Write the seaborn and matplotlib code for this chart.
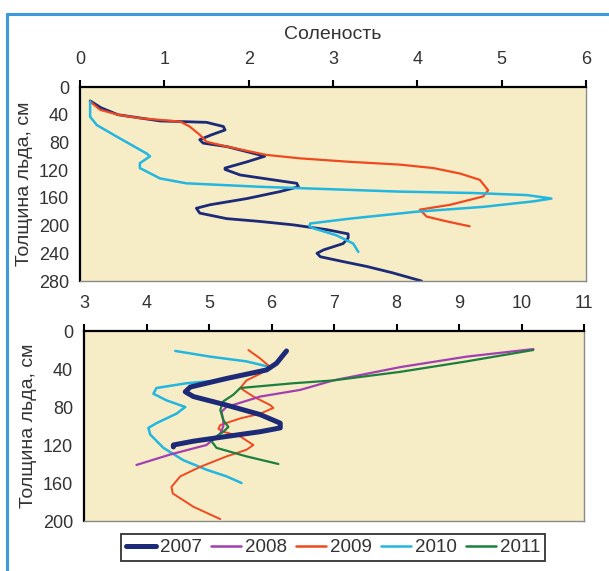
import matplotlib
matplotlib.use("Agg")
import matplotlib.pyplot as plt
import seaborn as sns
import pandas as pd
from matplotlib.lines import Line2D

# ---------------- data ----------------
years = ["2007", "2008", "2009", "2010", "2011"]
colors = ["#1c2a78", "#a23fb3", "#f0491f", "#22b6e0", "#1d7f3e"]

# top panel: salinity vs ice thickness
top_2007_sal = [0.12, 0.25, 0.45, 0.95, 1.5, 1.70, 1.72, 1.56, 1.42, 1.46, 1.74, 2.13, 2.19, 1.98, 1.72, 1.72,
                1.90, 2.29, 2.57, 2.59, 2.37, 1.98, 1.54, 1.38, 1.42, 1.74, 2.13, 2.53, 2.93, 3.18, 3.18, 3.12,
                2.89, 2.81, 2.85, 3.12, 3.40, 3.70, 4.05]
top_2007_dep = [20, 30, 40, 49, 51, 57, 62, 69, 76, 81, 86, 98, 100, 108, 117, 119,
                127, 134, 139, 144, 151, 161, 170, 175, 182, 190, 194, 199, 206, 212, 218, 226,
                235, 240, 245, 252, 259, 268, 280]
top_2009_sal = [0.12, 0.24, 0.45, 0.71, 1.19, 1.30, 1.42, 1.50, 1.74, 2.21, 2.61, 3.20, 3.79, 4.19, 4.51,
                4.74, 4.84, 4.78, 4.39, 4.03, 4.11, 4.35, 4.62]
top_2009_dep = [21, 33, 40, 45, 50, 57, 69, 79, 86, 98, 103, 108, 112, 117, 125,
                134, 149, 158, 170, 177, 187, 194, 201]
top_2010_sal = [0.12, 0.12, 0.20, 0.47, 0.79, 0.83, 0.71, 0.71, 0.95, 1.26, 2.13, 3.32, 3.79, 4.66, 5.30,
                5.59, 5.38, 4.78, 3.99, 3.20, 2.73, 2.72, 2.77, 3.04, 3.24, 3.30]
top_2010_dep = [21, 43, 55, 74, 96, 100, 110, 117, 132, 139, 144, 149, 151, 153, 156,
                161, 165, 173, 180, 190, 197, 201, 204, 214, 226, 238]

# bottom panel
bot_2007_x = [6.24, 6.08, 5.92, 5.28, 4.70, 4.62, 4.75, 5.28, 5.82, 6.14, 6.14, 5.82, 5.28, 4.75, 4.43, 4.43]
bot_2007_dep = [21, 34, 41, 50, 59, 64, 69, 78, 88, 97, 102, 106, 111, 116, 120, 122]
bot_2008_x = [10.19, 9.12, 8.06, 6.99, 6.46, 5.82, 5.28, 5.20, 5.23, 5.23, 5.18, 4.96, 4.38, 3.84]
bot_2008_dep = [19, 27, 38, 52, 62, 69, 80, 85, 94, 100, 108, 120, 130, 141]
bot_2009_x = [5.63, 5.82, 5.98, 5.82, 5.60, 5.50, 5.71, 5.98, 6.03, 5.82, 5.50, 5.18, 5.15, 5.23, 5.50,
              5.71, 5.60, 5.28, 4.86, 4.54, 4.40, 4.42, 4.75, 5.18]
bot_2009_dep = [20, 29, 38, 45, 52, 60, 69, 78, 81, 87, 92, 99, 103, 106, 111,
                120, 125, 132, 143, 153, 164, 171, 185, 198]
bot_2010_x = [4.46, 5.02, 5.60, 5.98, 5.82, 5.18, 4.64, 4.16, 4.11, 4.32, 4.62, 4.48, 4.16, 4.03, 4.06,
              4.27, 4.59, 4.96, 5.28, 5.52]
bot_2010_dep = [21, 27, 32, 38, 43, 52, 55, 60, 66, 73, 80, 87, 97, 102, 109,
                123, 136, 146, 153, 160]
bot_2011_x = [10.19, 9.12, 8.06, 6.99, 6.35, 5.50, 5.39, 5.23, 5.18, 5.23, 5.31, 5.23, 5.12, 5.04, 5.12,
              5.60, 6.11]
bot_2011_dep = [20, 32, 43, 52, 55, 60, 67, 74, 83, 94, 101, 106, 111, 116, 123, 132, 140]

top_xticks = [0, 1, 2, 3, 4, 5, 6]
top_yticks = [0, 40, 80, 120, 160, 200, 240, 280]
bot_xticks = [3, 4, 5, 6, 7, 8, 9, 10, 11]
bot_yticks = [0, 40, 80, 120, 160, 200]

# ---------------- style ----------------
sns.set_theme(style="white")
plt.rcParams["font.family"] = ["Liberation Sans", "DejaVu Sans"]
txt = "#333333"

fig = plt.figure(figsize=(6.09, 5.71), dpi=100)
W, H = 609, 571
bg = "#f6edc6"


def make_ax(l, r, t, b):
    return fig.add_axes([l / W, 1 - b / H, (r - l) / W, (b - t) / H])


ax1 = make_ax(80, 586, 87, 281)
ax2 = make_ax(84, 584, 331, 521)

top_series = [("2007", top_2007_sal, top_2007_dep, 2.0),
              ("2009", top_2009_sal, top_2009_dep, 1.6),
              ("2010", top_2010_sal, top_2010_dep, 1.8)]
bot_series = [("2010", bot_2010_x, bot_2010_dep, 1.8),
              ("2009", bot_2009_x, bot_2009_dep, 1.4),
              ("2008", bot_2008_x, bot_2008_dep, 1.6),
              ("2011", bot_2011_x, bot_2011_dep, 1.6),
              ("2007", bot_2007_x, bot_2007_dep, 3.6)]
cmap = dict(zip(years, colors))

for ax, series in ((ax1, top_series), (ax2, bot_series)):
    for yr, xs, ds, lw in series:
        df = pd.DataFrame({"x": xs, "d": ds})
        sns.lineplot(data=df, x="x", y="d", sort=False, estimator=None, ax=ax,
                     color=cmap[yr], lw=lw, solid_capstyle="round")

for ax, xt, yt in ((ax1, top_xticks, top_yticks), (ax2, bot_xticks, bot_yticks)):
    ax.set_facecolor(bg)
    ax.set_xlim(xt[0], xt[-1])
    ax.set_ylim(yt[-1], yt[0])
    ax.set_xticks(xt)
    ax.set_yticks(yt)
    ax.xaxis.tick_top()
    ax.xaxis.set_label_position("top")
    ax.set_ylabel("Толщина льда, см", fontsize=14, color=txt, labelpad=4)
    ax.set_xlabel("")
    ax.tick_params(axis="both", direction="out", length=5, width=1.5, color="black",
                   labelsize=13, labelcolor=txt, pad=3)
    ax.tick_params(axis="x", pad=9)
    for s in ("left", "top"):
        ax.spines[s].set_color("black")
        ax.spines[s].set_linewidth(1.6)
    for s in ("right", "bottom"):
        ax.spines[s].set_color("#8a8a8a")
        ax.spines[s].set_linewidth(1.0)
    ax.grid(False)

ax1.set_xlabel("Соленость", fontsize=14, color=txt, labelpad=8)

# legend
handles = [Line2D([0], [0], color=c, lw=(3.6 if y == "2007" else 1.8)) for y, c in zip(years, colors)]
leg = fig.legend(handles, years, loc="center", bbox_to_anchor=(333 / W, 1 - 547.5 / H), ncol=5,
                 frameon=True, fancybox=False, fontsize=13.5, handlelength=1.6, handletextpad=0.2,
                 columnspacing=0.5, borderpad=0.25, borderaxespad=0)
leg.get_frame().set_edgecolor("black")
leg.get_frame().set_linewidth(1.3)
for t in leg.get_texts():
    t.set_color(txt)

# blue frame
fig.add_artist(Line2D([7 / W, 7 / W], [0, 1 - 14 / H], color="#3d9bdc", lw=2.2, transform=fig.transFigure))
fig.add_artist(Line2D([7 / W, 1], [1 - 14 / H, 1 - 14 / H], color="#3d9bdc", lw=2.2, transform=fig.transFigure))

fig.savefig("out.png", dpi=100, facecolor="white")
